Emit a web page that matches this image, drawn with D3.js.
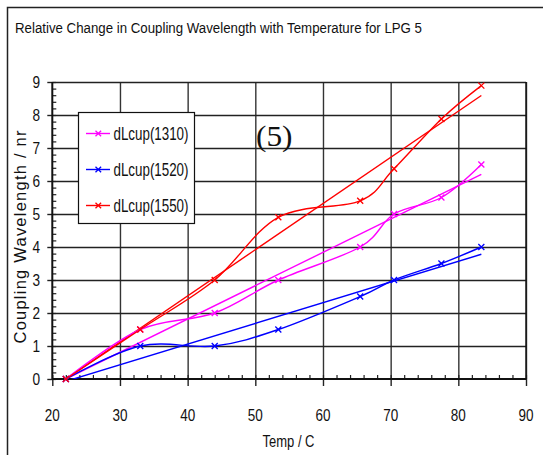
<!DOCTYPE html>
<html>
<head>
<meta charset="utf-8">
<script src="https://cdn.jsdelivr.net/npm/d3@7"></script>
<style>
  html, body { margin: 0; padding: 0; background: #fff; }
  svg { display: block; }
</style>
</head>
<body>
<script>
// ---- data ----
const temps   = [22, 33, 44, 53.4, 65.5, 70.5, 77.5, 83.4];
const dl1310  = [0, 1.5, 2.0, 3.0, 4.0, 5.0, 5.5, 6.5];
const dl1520  = [0, 1.0, 1.0, 1.5, 2.5, 3.0, 3.5, 4.0];
const dl1550  = [0, 1.5, 3.0, 4.9, 5.4, 6.37, 7.88, 8.89];
const trendX    = [22, 83.4];
const trend1310 = [0, 6.2];
const trend1520 = [-0.07, 3.78];
const trend1550 = [0, 8.59];
const seriesNames = ["dLcup(1310)", "dLcup(1520)", "dLcup(1550)"];
const xTickVals = [20, 30, 40, 50, 60, 70, 80, 90];
const yTickVals = [0, 1, 2, 3, 4, 5, 6, 7, 8, 9];
const titleText = "Relative Change in Coupling Wavelength with Temperature for LPG 5";
const xTitle = "Temp / C";
const yTitle = "Coupling Wavelength / nr";
const annotation = "(5)";

const colors = ["#ff00ff", "#0000ff", "#ff0000"];
const series = [
  {name: seriesNames[0], vals: dl1310, trend: trend1310, color: colors[0]},
  {name: seriesNames[1], vals: dl1520, trend: trend1520, color: colors[1]},
  {name: seriesNames[2], vals: dl1550, trend: trend1550, color: colors[2]},
];

const W = 543, H = 455;
const L = 52.3, R = 526, T = 82, B = 379;
const narrow = "'Liberation Sans Narrow','Arial Narrow','Liberation Sans',Arial,sans-serif";

const svg = d3.select("body").append("svg").attr("width", W).attr("height", H);

// outer frame
svg.append("rect").attr("x", 7.5).attr("y", 7.5).attr("width", 620).attr("height", 520)
  .attr("fill", "none").attr("stroke", "#222").attr("stroke-width", 1.5);

const x = d3.scaleLinear().domain([20, 90]).range([L, R]);
const y = d3.scaleLinear().domain([0, 9]).range([B, T]);

// gridlines
const grid = svg.append("g");
grid.append("g").attr("transform", `translate(0,${B})`)
  .call(d3.axisBottom(x).tickValues(xTickVals.slice(1)).tickSize(-(B - T)).tickFormat(""))
  .call(g => g.select(".domain").remove())
  .call(g => g.selectAll("line").attr("stroke", "#333").attr("stroke-width", 1.4));
grid.append("g").attr("transform", `translate(${L},0)`)
  .call(d3.axisLeft(y).tickValues(yTickVals.slice(1)).tickSize(-(R - L)).tickFormat(""))
  .call(g => g.select(".domain").remove())
  .call(g => g.selectAll("line").attr("stroke", "#222").attr("stroke-width", 1.6));

// major outward ticks
svg.append("g").attr("transform", `translate(0,${B})`)
  .call(d3.axisBottom(x).tickValues(xTickVals).tickSize(7).tickFormat(""))
  .call(g => g.select(".domain").remove())
  .call(g => g.selectAll("line").attr("stroke", "#222").attr("stroke-width", 1.4));
svg.append("g").attr("transform", `translate(${L},0)`)
  .call(d3.axisLeft(y).tickValues(yTickVals).tickSize(5).tickFormat(""))
  .call(g => g.select(".domain").remove())
  .call(g => g.selectAll("line").attr("stroke", "#222").attr("stroke-width", 1.4));

// minor inward ticks
svg.append("g").attr("transform", `translate(0,${B})`)
  .call(d3.axisBottom(x).tickValues(d3.range(20, 90.01, 2)).tickSize(-4).tickFormat(""))
  .call(g => g.select(".domain").remove())
  .call(g => g.selectAll("line").attr("stroke", "#222").attr("stroke-width", 1.2));
svg.append("g").attr("transform", `translate(${L},0)`)
  .call(d3.axisLeft(y).tickValues(d3.range(0, 9.01, 0.2)).tickSize(-4).tickFormat(""))
  .call(g => g.select(".domain").remove())
  .call(g => g.selectAll("line").attr("stroke", "#222").attr("stroke-width", 1.2));

// axis lines
svg.append("line").attr("x1", L).attr("x2", R).attr("y1", B).attr("y2", B)
  .attr("stroke", "#111").attr("stroke-width", 2);
svg.append("line").attr("x1", L).attr("x2", L).attr("y1", T).attr("y2", B)
  .attr("stroke", "#111").attr("stroke-width", 2);
svg.append("line").attr("x1", R).attr("x2", R).attr("y1", T).attr("y2", B)
  .attr("stroke", "#111").attr("stroke-width", 1.4);

// tick labels
svg.append("g").selectAll("text").data(xTickVals).join("text")
  .attr("x", d => x(d) - 7.5).attr("y", 421)
  .attr("font-family", narrow).attr("font-size", 16.5).attr("fill", "#111")
  .attr("textLength", 15).attr("lengthAdjust", "spacingAndGlyphs")
  .text(d => d);
svg.append("g").selectAll("text").data(yTickVals).join("text")
  .attr("x", 32.6).attr("y", d => y(d) + 5.9)
  .attr("font-family", narrow).attr("font-size", 16.5).attr("fill", "#111")
  .attr("textLength", 7.6).attr("lengthAdjust", "spacingAndGlyphs")
  .text(d => d);

// titles
svg.append("text").attr("x", 15).attr("y", 33.3)
  .attr("font-family", narrow).attr("font-size", 14).attr("fill", "#111")
  .attr("textLength", 407).attr("lengthAdjust", "spacingAndGlyphs")
  .text(titleText);
svg.append("text").attr("x", 262.5).attr("y", 447.3)
  .attr("font-family", narrow).attr("font-size", 16.5).attr("fill", "#111")
  .attr("textLength", 52).attr("lengthAdjust", "spacingAndGlyphs")
  .text(xTitle);
svg.append("text").attr("transform", "translate(25.5,343.5) rotate(-90)")
  .attr("font-family", "'Liberation Sans',Arial,sans-serif").attr("font-size", 16.5).attr("fill", "#111")
  .attr("textLength", 213).attr("lengthAdjust", "spacing")
  .text(yTitle);

// annotation
svg.append("text").attr("x", 256).attr("y", 145.5)
  .attr("font-family", "'Liberation Serif','Times New Roman',serif").attr("font-size", 29).attr("fill", "#111")
  .attr("textLength", 36.5).attr("lengthAdjust", "spacingAndGlyphs")
  .text(annotation);

// clip
svg.append("clipPath").attr("id", "plotclip").append("rect")
  .attr("x", L).attr("y", T).attr("width", R - L).attr("height", B - T);

const plot = svg.append("g").attr("clip-path", "url(#plotclip)");
const curveLine = d3.line().x(d => x(d[0])).y(d => y(d[1])).curve(d3.curveCardinal.tension(0));
const straight = d3.line().x(d => x(d[0])).y(d => y(d[1]));

series.forEach(s => {
  plot.append("path").datum(trendX.map((t, i) => [t, s.trend[i]]))
    .attr("d", straight).attr("fill", "none").attr("stroke", s.color).attr("stroke-width", 1.4);
});
series.forEach(s => {
  plot.append("path").datum(temps.map((t, i) => [t, s.vals[i]]))
    .attr("d", curveLine).attr("fill", "none").attr("stroke", s.color).attr("stroke-width", 1.4);
});

function marker(g, cx, cy, color, r) {
  g.append("path")
    .attr("d", `M${cx - r},${cy - r}L${cx + r},${cy + r}M${cx - r},${cy + r}L${cx + r},${cy - r}`)
    .attr("stroke", color).attr("stroke-width", 1.3).attr("fill", "none");
}
const mk = svg.append("g");
series.forEach(s => {
  temps.forEach((t, i) => marker(mk, x(t), y(s.vals[i]), s.color, 3));
});

// legend
const lg = svg.append("g");
lg.append("rect").attr("x", 78.5).attr("y", 112.5).attr("width", 116).attr("height", 111)
  .attr("fill", "#fff").attr("stroke", "#111").attr("stroke-width", 1.2);
const legendY = d3.scalePoint().domain(seriesNames).range([133.5, 205.5]);
series.forEach(s => {
  const ly = legendY(s.name);
  lg.append("line").attr("x1", 86).attr("x2", 110).attr("y1", ly).attr("y2", ly)
    .attr("stroke", s.color).attr("stroke-width", 1.4);
  marker(lg, 98.3, ly, s.color, 2.8);
  lg.append("text").attr("x", 113.5).attr("y", ly + 6.8)
    .attr("font-family", narrow).attr("font-size", 18).attr("fill", "#111")
    .attr("textLength", 75).attr("lengthAdjust", "spacingAndGlyphs")
    .text(s.name);
});
</script>
</body>
</html>
